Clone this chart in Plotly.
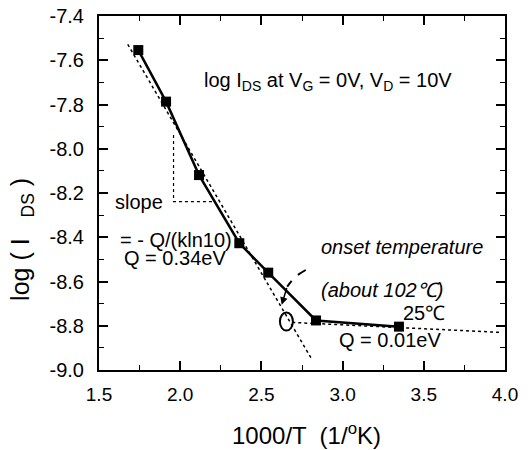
import plotly.graph_objects as go

# ---- data ----
inv_t = [1.742, 1.913, 2.116, 2.364, 2.542, 2.836, 3.347]
log_ids = [-7.554, -7.787, -8.119, -8.427, -8.560, -8.776, -8.804]

high_fit_x = [1.677, 2.813]
high_fit_y = [-7.528, -8.955]
low_fit_x = [2.69, 3.97]
low_fit_y = [-8.785, -8.83]

slope_x = [1.959, 1.959, 2.214]
slope_y = [-7.938, -8.239, -8.239]

arc_x = [2.773, 2.711, 2.659]
arc_y = [-8.548, -8.578, -8.623]
arrow_tip = (2.625, -8.705)
onset_ellipse = dict(x0=2.614, x1=2.694, y0=-8.822, y1=-8.740)

x_ticks = [1.5, 2.0, 2.5, 3.0, 3.5, 4.0]
y_ticks = [-7.4, -7.6, -7.8, -8.0, -8.2, -8.4, -8.6, -8.8, -9.0]

FONT = "Liberation Sans, Arial, sans-serif"

fig = go.Figure()

fig.add_trace(go.Scatter(x=high_fit_x, y=high_fit_y, mode="lines",
                         line=dict(color="black", width=1.5, dash="dot"), showlegend=False))
fig.add_trace(go.Scatter(x=low_fit_x, y=low_fit_y, mode="lines",
                         line=dict(color="black", width=1.5, dash="dot"), showlegend=False))
fig.add_trace(go.Scatter(x=slope_x, y=slope_y, mode="lines",
                         line=dict(color="black", width=1.2, dash="dot"), showlegend=False))
fig.add_trace(go.Scatter(x=arc_x, y=arc_y, mode="lines", line_shape="spline",
                         line=dict(color="black", width=2, dash="dash"), showlegend=False))
fig.add_trace(go.Scatter(x=inv_t, y=log_ids, mode="lines+markers",
                         line=dict(color="black", width=2.5),
                         marker=dict(symbol="square", size=10, color="black"),
                         showlegend=False))

fig.add_shape(type="circle", xref="x", yref="y", line=dict(color="black", width=2),
              **onset_ellipse)

fig.add_annotation(x=arrow_tip[0], y=arrow_tip[1], ax=arc_x[-1], ay=arc_y[-1],
                   xref="x", yref="y", axref="x", ayref="y", text="",
                   showarrow=True, arrowhead=2, arrowsize=1, arrowwidth=1.5, arrowcolor="black")

texts = [
    (2.134, -7.698, "log I<sub>DS</sub> at V<sub>G</sub> = 0V, V<sub>D</sub> = 10V"),
    (1.584, -8.239, "slope"),
    (1.617, -8.412, "= - Q/(kln10)"),
    (1.640, -8.495, "Q = 0.34eV"),
    (2.855, -8.443, "<i>onset temperature</i>"),
    (2.855, -8.638, "<i>(about 102℃)</i>"),
    (3.358, -8.744, "25℃"),
    (2.967, -8.864, "Q = 0.01eV"),
]
for x, y, t in texts:
    fig.add_annotation(x=x, y=y, xref="x", yref="y", text=t, showarrow=False,
                       xanchor="left", yanchor="middle",
                       font=dict(family=FONT, size=20, color="black"))

# axis titles
fig.add_annotation(x=0.51, y=-0.181, xref="paper", yref="paper",
                   text="1000/T  (1/<sup>o</sup>K)", showarrow=False,
                   xanchor="center", yanchor="middle",
                   font=dict(family=FONT, size=24, color="black"))
fig.add_annotation(x=-0.19, y=0.37, xref="paper", yref="paper",
                   text="log ( I &nbsp;&nbsp;<sub>DS</sub> )", textangle=-90, showarrow=False,
                   xanchor="center", yanchor="middle",
                   font=dict(family=FONT, size=25, color="black"))

axis_common = dict(showline=True, linecolor="black", linewidth=2, mirror="ticks",
                   ticks="inside", ticklen=9, tickwidth=1.5, tickcolor="black",
                   showgrid=False, zeroline=False, automargin=False,
                   ticklabeloverflow="allow")

fig.update_xaxes(range=[1.5, 4.0], tickvals=x_ticks, ticktext=[f"{v:.1f}" for v in x_ticks],
                 minor=dict(ticks="inside", ticklen=5, tickwidth=1.2, tickcolor="black", dtick=0.25),
                 ticklabelstandoff=6, tickfont=dict(family=FONT, size=19, color="black"),
                 **axis_common)
fig.update_yaxes(range=[-9.0, -7.4], tickvals=y_ticks, ticktext=[f"{v:.1f}" for v in y_ticks],
                 minor=dict(ticks="inside", ticklen=5, tickwidth=1.2, tickcolor="black", dtick=0.1),
                 ticklabelstandoff=9, tickfont=dict(family=FONT, size=20, color="black"),
                 **axis_common)

fig.update_layout(width=528, height=450, margin=dict(l=99, r=23, t=16, b=80),
                  plot_bgcolor="white", paper_bgcolor="white",
                  font=dict(family=FONT, color="black"))

# remove the browser's default body margin so the figure sits at the page origin
fig.write_html("out.html", config={"displayModeBar": False},
               post_script="document.body.style.margin='0';")
